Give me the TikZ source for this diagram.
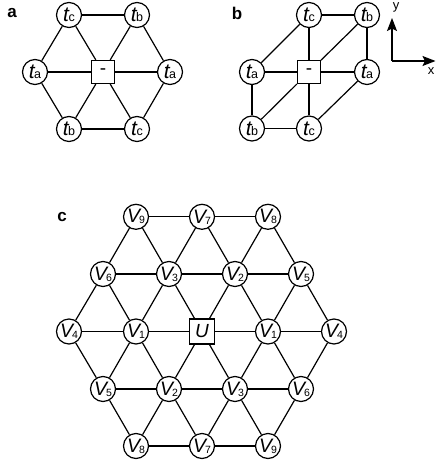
\documentclass[tikz,border=0pt]{standalone}
\usepackage{fontspec}
\setmainfont{Liberation Sans}
\usetikzlibrary{arrows.meta}
\newcommand{\tlab}[1]{{\fontsize{21}{21}\selectfont\itshape t}\kern-0.5pt{\fontsize{12.5}{12.5}\selectfont #1}}
\newcommand{\vlab}[1]{{\fontsize{19.5}{19.5}\selectfont\itshape V}\kern-1pt\raisebox{-1pt}{\fontsize{10.5}{10.5}\selectfont #1}}
\tikzset{
  site/.style={circle,draw,fill=white,line width=1.2pt,minimum size=25pt,inner sep=0pt},
  ctr/.style={rectangle,draw,fill=white,line width=1.2pt,minimum size=23pt,inner sep=0pt},
  bond/.style={line width=1.2pt},
  panel/.style={font=\fontsize{17}{17}\selectfont\bfseries},
  axis/.style={line width=1.2pt,-{Stealth[length=13pt,width=10pt,inset=2.5pt]}},
}
\begin{document}
\begin{tikzpicture}[x=1pt,y=-1pt]
\useasboundingbox (0,0) rectangle (436,460);
% panel labels
\node[panel] (la) at (12,13) {a};
\node[panel] (lb) at (237,13) {b};
\node[panel] (lc) at (62,217) {c};
% ---------- panel a ----------
\node[site] (aTL) at (69,15) {\tlab{c}};
\node[site] (aTR) at (137,15) {\tlab{b}};
\node[site] (aL) at (35,72) {\tlab{a}};
\node[ctr] (aC) at (103,72) {\fontsize{19}{19}\selectfont -};
\node[site] (aR) at (170,72) {\tlab{a}};
\node[site] (aBL) at (69,129) {\tlab{b}};
\node[site] (aBR) at (137,129) {\tlab{c}};
\foreach \p/\q in {aTL/aTR,aL/aC,aC/aR,aBL/aBR,aTL/aL,aTL/aC,aTR/aC,aTR/aR,aL/aBL,aC/aBL,aC/aBR,aR/aBR}
  \draw[bond] (\p) -- (\q);
% ---------- panel b ----------
\node[site] (bTL) at (309,15) {\tlab{c}};
\node[site] (bTR) at (367,15) {\tlab{b}};
\node[site] (bL) at (252,72) {\tlab{a}};
\node[ctr] (bC) at (309,72) {\fontsize{19}{19}\selectfont -};
\node[site] (bR) at (367,72) {\tlab{a}};
\node[site] (bBL) at (252,128.5) {\tlab{b}};
\node[site] (bBR) at (309,128.5) {\tlab{c}};
\foreach \p/\q in {bTL/bTR,bTL/bC,bTL/bL,bTR/bC,bTR/bR,bL/bC,bC/bR,bL/bBL,bC/bBL,bC/bBR,bR/bBR,bBL/bBR}
  \draw[bond] (\p) -- (\q);
% axes
\coordinate (o) at (392,61);
\coordinate (ye) at (392,18);
\coordinate (xe) at (435.5,61);
\draw[axis] (o) -- (ye);
\draw[axis] (o) -- (xe);
\node[font=\fontsize{13}{13}\selectfont] (ly) at (396,7) {y};
\node[font=\fontsize{13}{13}\selectfont] (lx) at (431,71) {x};
% ---------- panel c ----------
\node[site] (c11) at (136,216.8) {\vlab{9}};
\node[site] (c12) at (202,216.8) {\vlab{7}};
\node[site] (c13) at (268,216.8) {\vlab{8}};
\node[site] (c21) at (103,274) {\vlab{6}};
\node[site] (c22) at (169,274) {\vlab{3}};
\node[site] (c23) at (235,274) {\vlab{2}};
\node[site] (c24) at (301,274) {\vlab{5}};
\node[site] (c31) at (69,331.5) {\vlab{4}};
\node[site] (c32) at (136,331.5) {\vlab{1}};
\node[ctr,minimum size=25pt] (c33) at (202,331.5) {\fontsize{19}{19}\selectfont\itshape U};
\node[site] (c34) at (268,331.5) {\vlab{1}};
\node[site] (c35) at (334,331.5) {\vlab{4}};
\node[site] (c41) at (103,389) {\vlab{5}};
\node[site] (c42) at (169,389) {\vlab{2}};
\node[site] (c43) at (235,389) {\vlab{3}};
\node[site] (c44) at (301,389) {\vlab{6}};
\node[site] (c51) at (136,446) {\vlab{8}};
\node[site] (c52) at (202,446) {\vlab{7}};
\node[site] (c53) at (268,446) {\vlab{9}};
% horizontal bonds
\foreach \p/\q in {c11/c12,c12/c13,c21/c22,c22/c23,c23/c24,c31/c32,c32/c33,c33/c34,c34/c35,c41/c42,c42/c43,c43/c44,c51/c52,c52/c53}
  \draw[bond] (\p) -- (\q);
% diagonal bonds
\foreach \i [evaluate=\i as \j using int(\i+1)] in {1,2,3} {
  \draw[bond] (c1\i) -- (c2\i);
  \draw[bond] (c1\i) -- (c2\j);
  \draw[bond] (c5\i) -- (c4\i);
  \draw[bond] (c5\i) -- (c4\j);
}
\foreach \i [evaluate=\i as \j using int(\i+1)] in {1,2,3,4} {
  \draw[bond] (c2\i) -- (c3\i);
  \draw[bond] (c2\i) -- (c3\j);
  \draw[bond] (c4\i) -- (c3\i);
  \draw[bond] (c4\i) -- (c3\j);
}
\end{tikzpicture}
\end{document}
